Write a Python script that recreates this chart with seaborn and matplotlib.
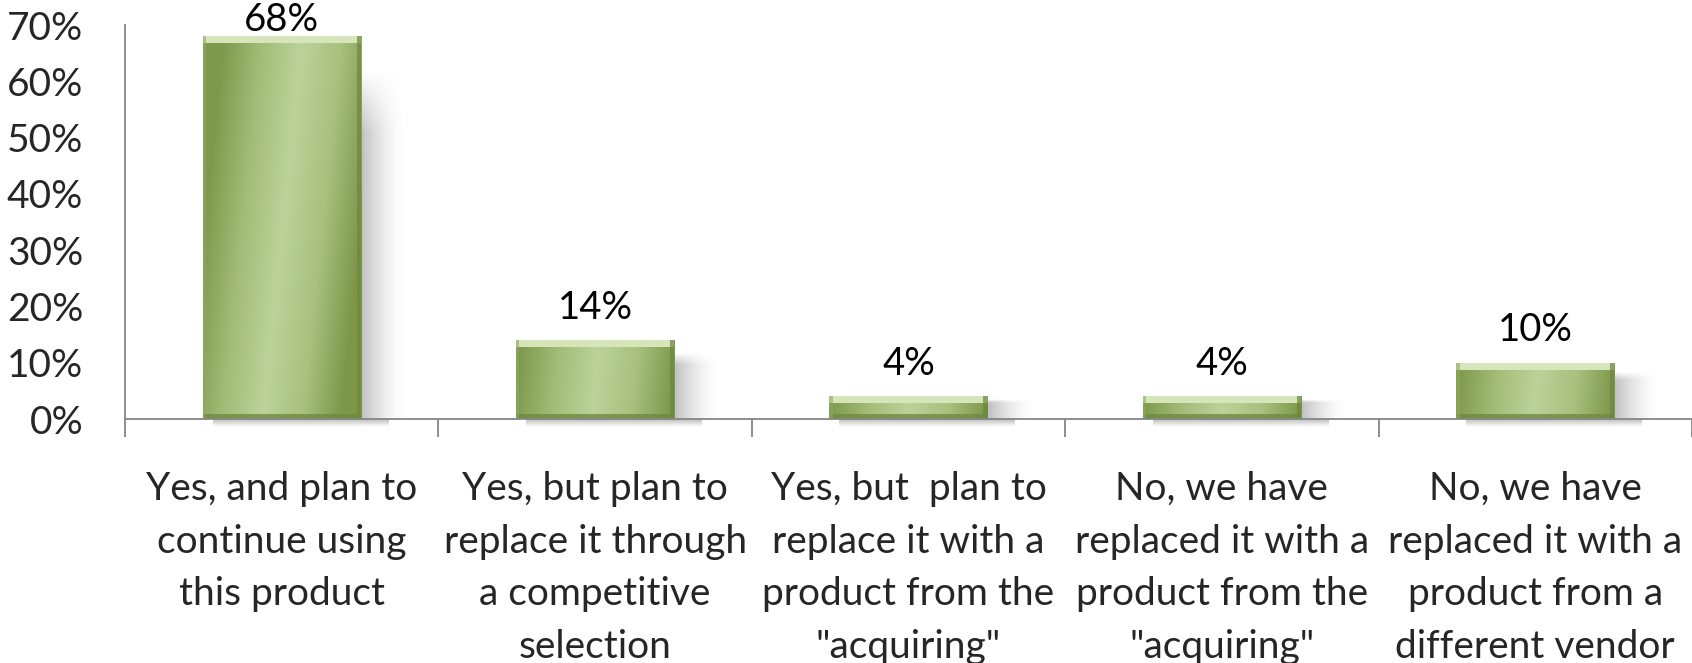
import numpy as np
import pandas as pd
import matplotlib
matplotlib.use("Agg")
import matplotlib.pyplot as plt
import seaborn as sns
from matplotlib.colors import LinearSegmentedColormap
from matplotlib.patches import Rectangle

categories = [
    "Yes, and plan to\ncontinue using\nthis product",
    "Yes, but plan to\nreplace it through\na competitive\nselection",
    "Yes, but  plan to\nreplace it with a\nproduct from the\n\"acquiring\"",
    "No, we have\nreplaced it with a\nproduct from the\n\"acquiring\"",
    "No, we have\nreplaced it with a\nproduct from a\ndifferent vendor",
]
values = [68, 14, 4, 4, 10]
ytick_values = [0, 10, 20, 30, 40, 50, 60, 70]
ytick_labels = ["0%", "10%", "20%", "30%", "40%", "50%", "60%", "70%"]

sns.set_theme(style="white")
plt.rcParams['font.family'] = ['Lato', 'DejaVu Sans']

W, H = 1692, 663
fig = plt.figure(figsize=(W / 100, H / 100), dpi=100)
ax_left, ax_right = 125 / W, 1.0
ax_bottom, ax_top = 1 - 419 / H, 1 - 25 / H
ax = fig.add_axes([ax_left, ax_bottom, ax_right - ax_left, ax_top - ax_bottom])

df = pd.DataFrame({"cat": categories, "val": values})
sns.barplot(data=df, x="cat", y="val", color="#9DB56E", width=0.505,
            ax=ax, saturation=1, zorder=3, linewidth=0)

ax.set_xlim(-0.5, 4.5)
ax.set_ylim(0, 70)

px_y = 70 / (419 - 25)          # data units per pixel (y)
px_x = 5 / (W - 125)            # data units per pixel (x)

cmap = LinearSegmentedColormap.from_list(
    "g", ["#7E994C", "#A4BC78", "#BCD29A", "#A9C07F", "#7C974A"])

for p in list(ax.patches):
    x0, y0 = p.get_x(), p.get_y()
    w, h = p.get_width(), p.get_height()
    # shadow to the right
    sw = 45 * px_x
    top_off = min(h * 0.15, 30 * px_y)
    sh = np.linspace(1, 0, 60)[None, :] ** 1.6
    sh = np.repeat(sh, 40, axis=0)
    vert = np.ones((40, 1))
    vert[:8, 0] = np.linspace(0.0, 1, 8)
    alpha = sh * vert
    rgba = np.zeros((40, 60, 4))
    rgba[..., :3] = 0.55
    rgba[..., 3] = alpha * 0.55
    ax.imshow(rgba, extent=[x0 + w, x0 + w + sw, y0, y0 + h - top_off],
              aspect='auto', zorder=2, interpolation='bilinear', origin='upper')
    # bottom shadow
    rgba2 = np.zeros((10, 60, 4))
    rgba2[..., :3] = 0.5
    rgba2[..., 3] = np.linspace(0.5, 0, 10)[:, None] * np.ones((1, 60))
    ax.imshow(rgba2, extent=[x0 + 10 * px_x, x0 + w + sw * 0.6, -8 * px_y, 0],
              aspect='auto', zorder=2, interpolation='bilinear', origin='upper',
              clip_on=False)
    # gradient fill
    nx, ny = 200, 200
    xx, yy = np.meshgrid(np.linspace(0, 1, nx), np.linspace(0, 1, ny))
    u = np.clip(xx + 0.25 * (yy - 0.5) * (h / 68), 0, 1)
    im = ax.imshow(u, extent=[x0, x0 + w, y0, y0 + h], aspect='auto',
                   cmap=cmap, vmin=0, vmax=1, zorder=4, interpolation='bilinear')
    im.set_clip_path(p)
    # bevel
    bev = 7 * px_y
    bx = 7 * px_x
    ax.add_patch(Rectangle((x0, y0 + h - bev), w, bev, facecolor="#D6E5BA",
                           edgecolor="none", zorder=5))
    ax.add_patch(Rectangle((x0, y0), w, bev * 0.7, facecolor="#6F8A40",
                           edgecolor="none", zorder=5, alpha=0.8))
    ax.add_patch(Rectangle((x0 + w - bx * 0.6, y0), bx * 0.6, h,
                           facecolor="#6C883D", edgecolor="none", zorder=5, alpha=0.7))
    ax.add_patch(Rectangle((x0, y0), bx * 0.5, h,
                           facecolor="#8FA862", edgecolor="none", zorder=5, alpha=0.6))

ax.set_xlim(-0.5, 4.5)
ax.set_ylim(0, 70)

# value labels
for i, v in enumerate(values):
    y = v + 2.6 if v + 2.6 < 66 else v - 0.3
    ax.text(i, y, f"{v}%", ha="center", va="bottom", fontsize=27.5,
            color="black", zorder=6)

ax.set_yticks(ytick_values)
ax.set_yticklabels(ytick_labels)
ax.set_xticks(range(len(categories)))
ax.set_xticklabels(categories, fontsize=28, linespacing=1.57)
ax.set_xticks(np.arange(-0.5, 5, 1), minor=True)
ax.tick_params(axis="x", which="major", length=0, pad=37.5)
ax.tick_params(axis="x", which="minor", length=13, width=1.3, color="#868686",
               direction="out")
ax.tick_params(axis="y", which="major", length=12, width=1.3, color="#868686",
               direction="out", labelsize=28, pad=18)
ax.xaxis.set_tick_params(bottom=True, which="minor")

for s in ["top", "right"]:
    ax.spines[s].set_visible(False)
for s in ["left", "bottom"]:
    ax.spines[s].set_color("#868686")
    ax.spines[s].set_linewidth(1.3)
ax.spines["left"].set_zorder(7)
ax.spines["bottom"].set_zorder(7)
ax.set_xlabel("")
ax.set_ylabel("")
ax.set_facecolor("white")

fig.savefig("out.png", dpi=100, facecolor="white")
